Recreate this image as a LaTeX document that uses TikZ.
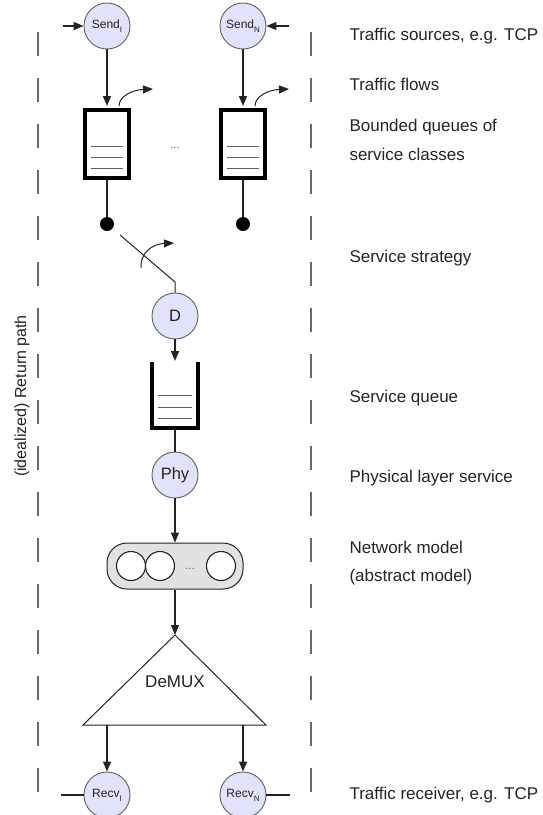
\documentclass[tikz,border=0pt]{standalone}
\usepackage{fontspec}
\setmainfont{Liberation Sans}
\usetikzlibrary{arrows.meta}
\definecolor{nodefill}{RGB}{226,226,250}
\definecolor{ink}{RGB}{35,35,35}
\definecolor{rim}{RGB}{95,95,95}
\definecolor{dashgray}{RGB}{105,105,105}
\definecolor{boxgray}{RGB}{226,226,226}
\newcommand\lowsub[1]{\raisebox{-4pt}{\fontsize{8}{8}\selectfont #1}}
\begin{document}
\begin{tikzpicture}[x=1pt,y=-1pt,
  agent/.style={circle,draw=rim,fill=nodefill,line width=0.9pt,minimum size=46pt,inner sep=0pt,text=ink},
  smalltext/.style={font=\fontsize{12}{12}\selectfont},
  bigtext/.style={font=\fontsize{16.5}{17}\selectfont},
  flow/.style={draw=ink,line width=1.2pt},
  arrowed/.style={-{Triangle[length=10pt,width=8pt]}},
  queuebox/.style={draw=black,line width=4pt,fill=white,minimum width=44pt,minimum height=68pt,inner sep=0pt},
  slot/.style={draw=rim,line width=0.8pt},
  joint/.style={circle,fill=black,minimum size=14pt,inner sep=0pt},
  ret/.style={draw=dashgray,line width=1.6pt,dash pattern=on 24pt off 22pt},
  legend/.style={anchor=base west,font=\fontsize{17}{20}\selectfont,text=ink},
  ring/.style={circle,draw=ink,fill=white,line width=1.1pt,minimum size=29pt,inner sep=0pt},
]
\useasboundingbox (0,0) rectangle (543,815);

% return path
\draw[ret] (38,32) -- (38,792);
\draw[ret] (311,32) -- (311,792);
\node[rotate=90,font=\fontsize{16}{18}\selectfont,text=ink] (retlabel) at (22,396) {(idealized) Return path};

% traffic sources
\node[agent,smalltext] (s1) at (107,26) {Send\lowsub{I}};
\node[agent,smalltext] (sN) at (243,26) {Send\lowsub{N}};
\coordinate (in1) at (63,26);
\coordinate (inN) at (289,26);
\draw[flow,arrowed] (in1) -- (s1);
\draw[flow,arrowed] (inN) -- (sN);

% bounded queues
\node[queuebox] (q1) at (107,144) {};
\node[queuebox] (qN) at (243,144) {};
\foreach \qx in {107,243}{
  \foreach \yy in {146,157,168}{
    \draw[slot] (\qx-16,\yy) -- (\qx+16,\yy);
  }
}
\node[font=\fontsize{11}{12}\selectfont,text=rim] (gap) at (175,148) {...};
\draw[flow,arrowed,shorten >=2pt] (s1) -- (q1.north);
\draw[flow,arrowed,shorten >=2pt] (sN) -- (qN.north);

% overflow (drop) arrows
\coordinate (o1) at (153,89);
\coordinate (oN) at (289,89);
\draw[flow,line width=1pt,arrowed] ([shift={(12,-2)}]q1.north) .. controls (119,97) and (131,90) .. (o1);
\draw[flow,line width=1pt,arrowed] ([shift={(12,-2)}]qN.north) .. controls (255,97) and (267,90) .. (oN);

% switch contacts
\node[joint] (d1) at (107,224) {};
\node[joint] (dN) at (243,224) {};
\draw[flow] (q1.south) -- (d1);
\draw[flow] (qN.south) -- (dN);

% service strategy switch
\node[agent,bigtext] (dsel) at (175,316) {D};
\coordinate (sw) at (120,235);
\coordinate (bend) at (175,282);
\draw[flow,line width=1pt] (sw) -- (bend) -- (dsel.north);
\coordinate (a0) at (141,268);
\coordinate (a1) at (174,243);
\draw[flow,line width=1pt,arrowed] (a0) .. controls (140,253) and (152,244) .. (a1);

% service queue
\coordinate (sqtop) at (175,361);
\draw[flow,arrowed] (dsel) -- (sqtop);
\draw[draw=black,line width=4pt,line join=miter] (152,362) -- (152,428) -- (198,428) -- (198,362);
\foreach \yy in {395,407,418}{
  \draw[slot] (158,\yy) -- (192,\yy);
}
\coordinate (sqbot) at (175,430);

% physical layer
\node[agent,bigtext] (phy) at (175,475) {Phy};
\draw[flow] (sqbot) -- (phy);

% network model
\node[draw=ink,fill=boxgray,rounded corners=20pt,minimum width=136pt,minimum height=46pt,line width=1pt,inner sep=0pt] (net) at (175,566) {};
\node[ring] (c1) at (131,566) {};
\node[ring] (c2) at (160,566) {};
\node[ring] (c3) at (221,566) {};
\node[font=\fontsize{11}{12}\selectfont,text=rim] (netgap) at (190,569) {...};
\draw[flow,arrowed] (phy) -- (net);

% demultiplexer
\coordinate (apex) at (175,635);
\coordinate (bl) at (83,725);
\coordinate (br) at (266,725);
\draw[draw=ink,fill=white,line width=1pt,line join=miter] (apex) -- (bl) -- (br) -- cycle;
\node[font=\fontsize{17}{18}\selectfont,text=ink] (demux) at (175,682) {DeMUX};
\draw[flow,arrowed] (net) -- (apex);

% receivers
\node[agent,smalltext] (r1) at (107,795) {Recv\lowsub{I}};
\node[agent,smalltext] (rN) at (243,795) {Recv\lowsub{N}};
\coordinate (b1) at (107,725);
\coordinate (bN) at (243,725);
\draw[flow,arrowed] (b1) -- (r1);
\draw[flow,arrowed] (bN) -- (rN);
\coordinate (e1) at (61,795);
\coordinate (eN) at (290,795);
\draw[flow] (e1) -- (r1);
\draw[flow] (rN) -- (eN);

% layer descriptions
\node[legend] (t1) at (346,40) {Traffic sources, e.g. TCP};
\node[legend] (t2) at (346,90) {Traffic flows};
\node[legend] (t3) at (346,131) {Bounded queues of};
\node[legend] (t4) at (346,160) {service classes};
\node[legend] (t5) at (346,262) {Service strategy};
\node[legend] (t6) at (346,402) {Service queue};
\node[legend] (t7) at (346,482) {Physical layer service};
\node[legend] (t8) at (346,553) {Network model};
\node[legend] (t9) at (346,581) {(abstract model)};
\node[legend] (t10) at (346,799) {Traffic receiver, e.g. TCP};
\end{tikzpicture}
\end{document}
